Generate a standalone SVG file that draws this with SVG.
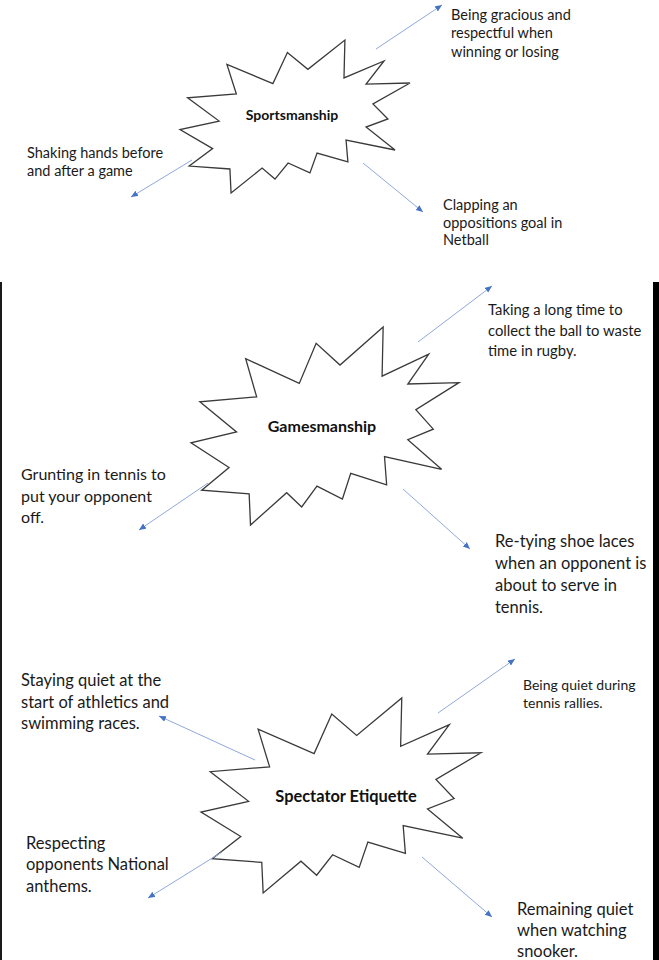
<svg xmlns="http://www.w3.org/2000/svg" xmlns:xlink="http://www.w3.org/1999/xlink" width="659" height="960" viewBox="0 0 659 960">
<style>
.lbl{font-family:Lato,"Liberation Sans",sans-serif;fill:#1a1a1a}
.s1{font-size:14.5px}
.s2{font-size:16.5px}
.ttl{font-family:Lato,"Liberation Sans",sans-serif;font-weight:bold;fill:#111;text-anchor:middle}
.burst{fill:#fff;stroke:#3a3a3a;stroke-width:1.3;stroke-linejoin:miter;vector-effect:non-scaling-stroke}
.con{stroke:#8fa9dc;stroke-width:1;fill:none;marker-end:url(#ah)}
</style>
<defs>
<marker id="ah" markerUnits="userSpaceOnUse" markerWidth="8" markerHeight="7" refX="7" refY="3" orient="auto">
<path d="M0,0 L7,3 L0,6 Z" fill="#4472c4"/>
</marker>
<path id="burst" class="burst" d="M717,0 L713,248 L887,137 L809,288 L1000,281 L839,418 L904,516 L809,569 L935,719 L722,654 L730,797 L596,739 L565,869 L470,804 L413,909 L357,837 L222,1000 L217,843 L40,824 L142,710 L0,585 L170,530 L33,378 L245,353 L204,160 L404,285 L467,82 L556,192 Z"/>
</defs>
<rect width="659" height="960" fill="#fff"/>
<rect x="0" y="282" width="2" height="678" fill="#1a1a1a"/>
<rect x="653" y="282" width="6" height="678" fill="#000"/>

<g id="sportsmanship">
<use xlink:href="#burst" transform="translate(180,40) scale(0.230,0.153)"/>
<text class="ttl" x="292" y="120" font-size="14">Sportsmanship</text>
</g>
<g id="gamesmanship">
<use xlink:href="#burst" transform="translate(191,327) scale(0.268,0.198)"/>
<text class="ttl" x="322" y="432" font-size="16">Gamesmanship</text>
</g>
<g id="spectator">
<use xlink:href="#burst" transform="translate(201,698) scale(0.280,0.195)"/>
<text class="ttl" x="346" y="802" font-size="16.4">Spectator Etiquette</text>
</g>

<g id="t-gracious"><text class="lbl s1" x="451" y="20">Being gracious and</text><text class="lbl s1" x="451" y="38">respectful when</text><text class="lbl s1" x="451" y="57">winning or losing</text></g>
<g id="t-shaking"><text class="lbl s1" x="27" y="158">Shaking hands before</text><text class="lbl s1" x="27" y="176">and after a game</text></g>
<g id="t-clapping"><text class="lbl s1" x="443" y="210">Clapping an</text><text class="lbl s1" x="443" y="228">oppositions goal in</text><text class="lbl s1" x="443" y="245">Netball</text></g>

<g id="t-taking" font-size="14.8px"><text class="lbl" x="488" y="315">Taking a long time to</text><text class="lbl" x="488" y="336">collect the ball to waste</text><text class="lbl" x="488" y="356">time in rugby.</text></g>
<g id="t-grunting" font-size="16px"><text class="lbl" x="21" y="480">Grunting in tennis to</text><text class="lbl" x="21" y="502">put your opponent</text><text class="lbl" x="21" y="523">off.</text></g>
<g id="t-retying"><text class="lbl s2" x="495" y="547">Re-tying shoe laces</text><text class="lbl s2" x="495" y="569">when an opponent is</text><text class="lbl s2" x="495" y="591">about to serve in</text><text class="lbl s2" x="495" y="613">tennis.</text></g>

<g id="t-staying"><text class="lbl s2" x="21" y="686">Staying quiet at the</text><text class="lbl s2" x="21" y="708">start of athletics and</text><text class="lbl s2" x="21" y="729">swimming races.</text></g>
<g id="t-tennisquiet" font-size="14px"><text class="lbl" x="523" y="690">Being quiet during</text><text class="lbl" x="523" y="708">tennis rallies.</text></g>
<g id="t-anthems"><text class="lbl s2" x="26" y="849">Respecting</text><text class="lbl s2" x="26" y="870">opponents National</text><text class="lbl s2" x="26" y="892">anthems.</text></g>
<g id="t-snooker"><text class="lbl s2" x="517" y="915">Remaining quiet</text><text class="lbl s2" x="517" y="936">when watching</text><text class="lbl s2" x="517" y="957">snooker.</text></g>

<g id="connectors">
<line class="con" x1="376" y1="49" x2="442" y2="5"/>
<line class="con" x1="192" y1="160" x2="131" y2="197"/>
<line class="con" x1="363" y1="163" x2="423" y2="212"/>
<line class="con" x1="418" y1="342" x2="492" y2="286"/>
<line class="con" x1="208" y1="483" x2="139" y2="530"/>
<line class="con" x1="403" y1="489" x2="470" y2="549"/>
<line class="con" x1="255" y1="760" x2="159" y2="716"/>
<line class="con" x1="438" y1="713" x2="515" y2="659"/>
<line class="con" x1="222" y1="852" x2="148" y2="898"/>
<line class="con" x1="422" y1="857" x2="492" y2="917"/>
</g>
</svg>
